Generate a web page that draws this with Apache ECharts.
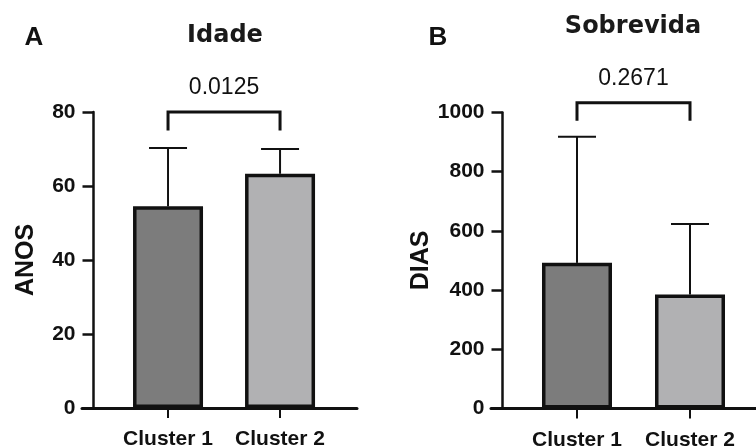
<!DOCTYPE html>
<html>
<head>
<meta charset="utf-8">
<script src="https://cdn.jsdelivr.net/npm/echarts@6/dist/echarts.min.js"></script>
<style>
  html, body { margin: 0; padding: 0; background: #fff; }
  #chart { width: 756px; height: 448px; }
</style>
</head>
<body>
<div id="chart"></div>
<script>
// Groups and their positions on the x value axis
const clusters = ['Cluster 1', 'Cluster 2'];
const clusterPos = [1, 2];

// Panel A: age (years), mean and SD
const idadeMean = [54.5, 63.3];
const idadeSD = [15.8, 6.7];
const idadeTicks = { min: 0, max: 80, interval: 20 };
const idadeP = '0.0125';
const idadeBracket = [80, 75];        // bar height, leg end

// Panel B: survival (days), mean and SD
const sobrevidaMean = [492, 385];
const sobrevidaSD = [426, 238];
const sobrevidaTicks = { min: 0, max: 1000, interval: 200 };
const sobrevidaP = '0.2671';
const sobrevidaBracket = [1033, 972];

const barColors = ['#7c7c7c', '#b1b1b3'];

const INK = '#111';
const HELV = 'Liberation Sans';
const WIDE = 'DejaVu Sans';

function xAxisFor(gridIndex, min, max) {
  return {
    type: 'value', gridIndex, min, max,
    splitLine: { show: false },
    axisLine: { show: true, lineStyle: { color: INK, width: 3 } },
    axisTick: { show: true, customValues: clusterPos, length: 10, inside: false,
                lineStyle: { color: INK, width: 2 } },
    axisLabel: { show: true, customValues: clusterPos, margin: 21,
                 formatter: v => clusters[clusterPos.indexOf(Math.round(v))] || '',
                 color: INK, fontFamily: HELV, fontWeight: 'bold', fontSize: 21 }
  };
}

function yAxisFor(gridIndex, ticks, name, gap) {
  return {
    type: 'value', gridIndex, min: ticks.min, max: ticks.max, interval: ticks.interval,
    offset: -11.5,
    splitLine: { show: false },
    axisLine: { show: true, lineStyle: { color: INK, width: 2.5 } },
    axisTick: { show: true, length: 11, inside: false, lineStyle: { color: INK, width: 2.5 } },
    axisLabel: { show: true, margin: 18, formatter: v => String(v),
                 color: INK, fontFamily: HELV, fontWeight: 'bold', fontSize: 21 },
    name, nameLocation: 'middle', nameRotate: 90, nameGap: gap,
    nameTextStyle: { color: INK, fontFamily: HELV, fontWeight: 'bold', fontSize: 25 }
  };
}

function barSeries(idx, means) {
  return {
    type: 'bar', xAxisIndex: idx, yAxisIndex: idx,
    barWidth: 70, z: 2,
    data: means.map((m, i) => ({
      value: [clusterPos[i], m],
      itemStyle: { color: barColors[i], borderColor: INK, borderWidth: 3.5 }
    }))
  };
}

function errorSeries(idx, means, sds) {
  return {
    type: 'custom', xAxisIndex: idx, yAxisIndex: idx, z: 3, clip: false,
    data: means.map((m, i) => [clusterPos[i], m, m + sds[i]]),
    encode: { x: 0, y: [1, 2] },
    renderItem(params, api) {
      const base = api.coord([api.value(0), api.value(1)]);
      const top = api.coord([api.value(0), api.value(2)]);
      const half = 19;
      const style = { stroke: INK, lineWidth: 2 };
      return {
        type: 'group',
        children: [
          { type: 'line', shape: { x1: base[0], y1: base[1], x2: top[0], y2: top[1] }, style },
          { type: 'line', shape: { x1: top[0] - half, y1: top[1], x2: top[0] + half, y2: top[1] }, style }
        ]
      };
    }
  };
}

function bracketSeries(idx, bracket, pText) {
  return {
    type: 'custom', xAxisIndex: idx, yAxisIndex: idx, z: 4, clip: false,
    data: [[clusterPos[0], clusterPos[1], bracket[0], bracket[1]]],
    encode: { x: [0, 1], y: [2, 3] },
    renderItem(params, api) {
      const a = api.coord([api.value(0), api.value(2)]);
      const b = api.coord([api.value(1), api.value(2)]);
      const legA = api.coord([api.value(0), api.value(3)]);
      const legB = api.coord([api.value(1), api.value(3)]);
      return {
        type: 'group',
        children: [
          { type: 'polyline',
            shape: { points: [[legA[0], legA[1]], a, b, [legB[0], legB[1]]] },
            style: { stroke: INK, lineWidth: 3, fill: null, lineJoin: 'miter' } },
          { type: 'text', x: (a[0] + b[0]) / 2, y: a[1] - 24,
            style: { text: pText, fill: INK, fontFamily: HELV, fontSize: 23,
                     align: 'center', verticalAlign: 'middle' } }
        ]
      };
    }
  };
}

function label(text, x, y, size, family, color) {
  return { type: 'text', x, y,
           style: { text, fill: color, fontFamily: family, fontWeight: 'bold', fontSize: size,
                    align: 'center', verticalAlign: 'middle' } };
}

const chart = echarts.init(document.getElementById('chart'), null, { renderer: 'canvas' });

chart.setOption({
  animation: false,
  backgroundColor: '#fff',
  grid: [
    { left: 82, top: 112, width: 275, height: 296, outerBoundsMode: 'none', containLabel: false },
    { left: 491, top: 112.5, width: 265, height: 296, outerBoundsMode: 'none', containLabel: false }
  ],
  xAxis: [
    xAxisFor(0, 0.232, 2.687),
    xAxisFor(1, 0.239, 2.584)
  ],
  yAxis: [
    yAxisFor(0, idadeTicks, 'ANOS', 55),
    yAxisFor(1, sobrevidaTicks, 'DIAS', 62)
  ],
  graphic: [
    label('A', 34, 38, 26, HELV, INK),
    label('B', 438, 38, 26, HELV, INK),
    label('Idade', 225, 36, 24, WIDE, '#1a1a1a'),
    label('Sobrevida', 633, 27, 24, WIDE, '#1a1a1a')
  ],
  series: [
    barSeries(0, idadeMean),
    errorSeries(0, idadeMean, idadeSD),
    bracketSeries(0, idadeBracket, idadeP),
    barSeries(1, sobrevidaMean),
    errorSeries(1, sobrevidaMean, sobrevidaSD),
    bracketSeries(1, sobrevidaBracket, sobrevidaP)
  ]
});
</script>
</body>
</html>
